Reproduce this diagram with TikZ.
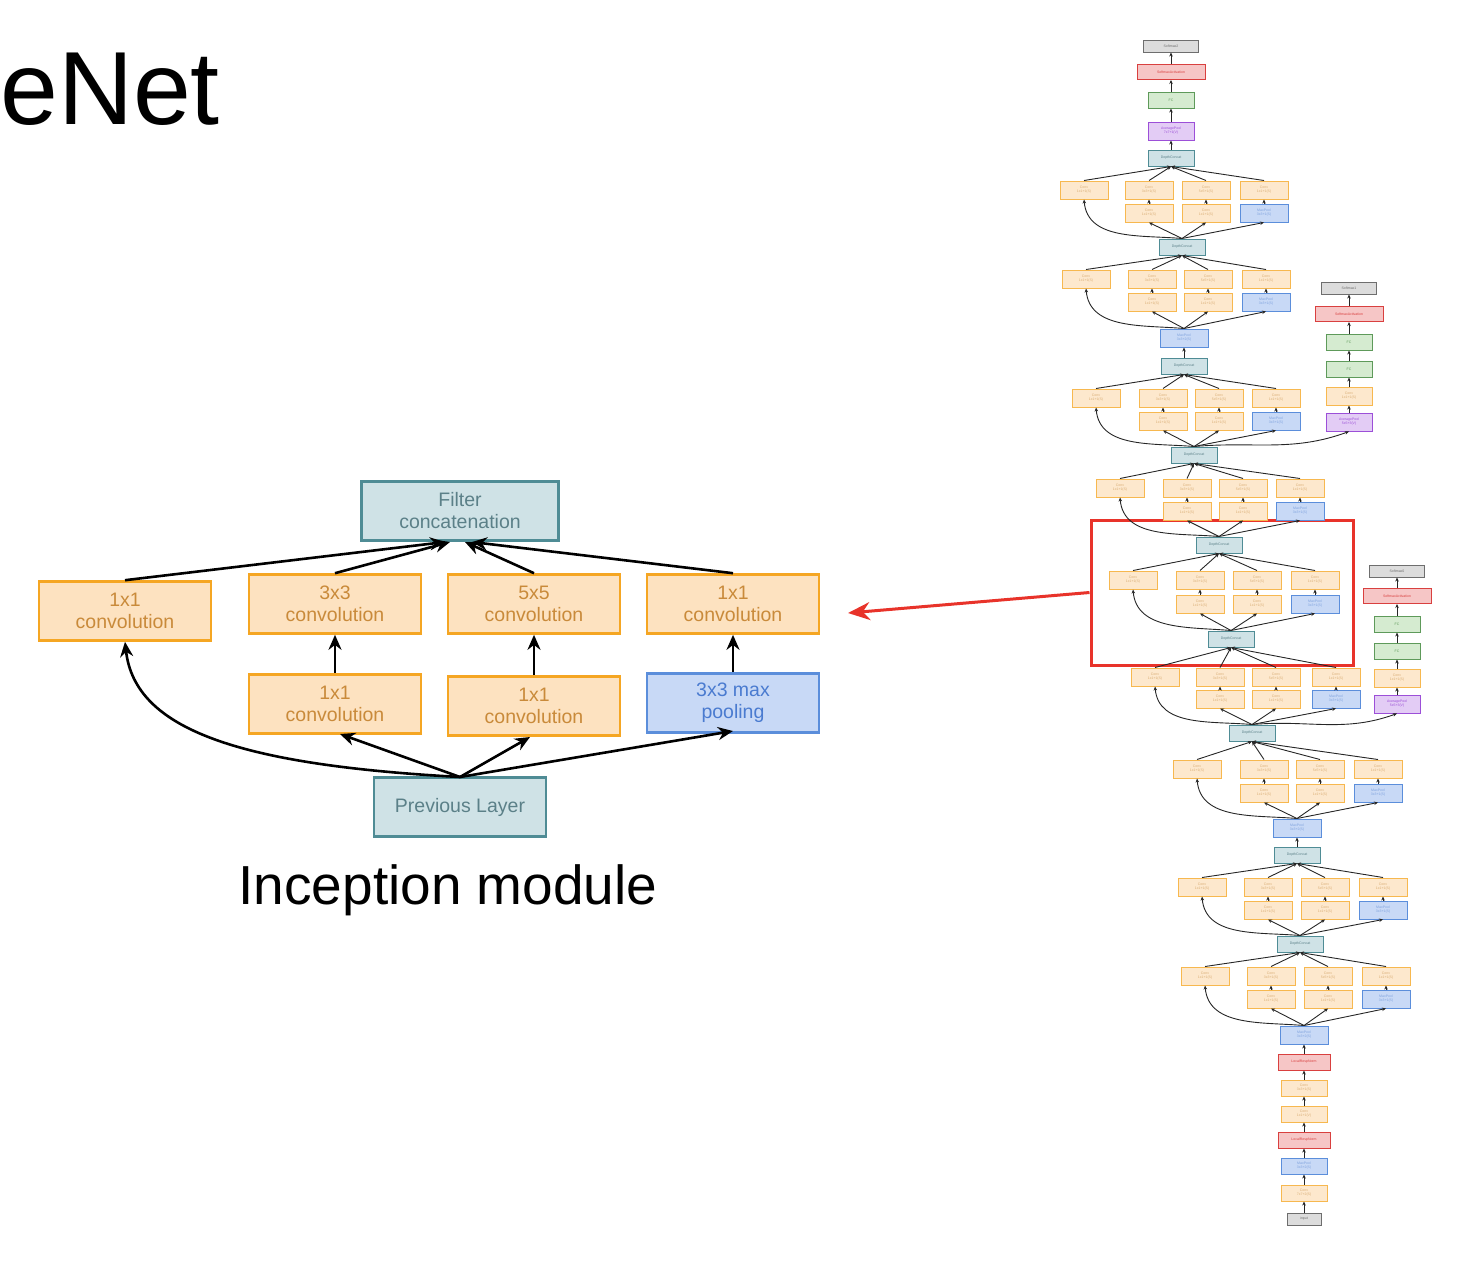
\documentclass[tikz,border=0pt]{standalone}
\usepackage{fontspec}
\setmainfont{Liberation Sans}
\usetikzlibrary{arrows.meta}
\definecolor{ofill}{HTML}{FDE2C0}\definecolor{oline}{HTML}{F5A623}\definecolor{otext}{HTML}{C98A3A}
\definecolor{tfill}{HTML}{CFE2E6}\definecolor{tline}{HTML}{4F8C95}\definecolor{ttext}{HTML}{5B8088}
\definecolor{bfill}{HTML}{C8D9F6}\definecolor{bline}{HTML}{5B8EDB}\definecolor{btext}{HTML}{4A7BD0}
\definecolor{rfill}{HTML}{F6C6C6}\definecolor{rline}{HTML}{D9403F}
\definecolor{gfill}{HTML}{D5EBD0}\definecolor{gline}{HTML}{5E9A5A}
\definecolor{pfill}{HTML}{E3CCF5}\definecolor{pline}{HTML}{9C4FD8}
\definecolor{kfill}{HTML}{DCDCDC}\definecolor{kline}{HTML}{6E6E6E}
\definecolor{redbox}{HTML}{E8332A}
\newcommand\incep[9]{%
\node[sconv] (#1a) at (#4,#2) {Conv\\1x1+1(S)};
\node[sconv] (#1b) at (#5,#2) {Conv\\3x3+1(S)};
\node[sconv] (#1c) at (#6,#2) {Conv\\5x5+1(S)};
\node[sconv] (#1d) at (#7,#2) {Conv\\1x1+1(S)};
\node[sconv] (#1e) at (#5,#3) {Conv\\1x1+1(S)};
\node[sconv] (#1f) at (#6,#3) {Conv\\1x1+1(S)};
\node[spool] (#1g) at (#7,#3) {MaxPool\\3x3+1(S)};
\foreach \n in {a,b,c,d}{\draw[sa] (#1\n.north) -- (#9.south);}
\draw[sa] (#1e) -- (#1b); \draw[sa] (#1f) -- (#1c); \draw[sa] (#1g) -- (#1d);
\draw[sa] (#8.north) to[out=175,in=-85] (#1a.south);
\draw[sa] (#8.north) -- (#1e.south);
\draw[sa] (#8.north) -- (#1f.south);
\draw[sa] (#8.north) -- (#1g.south);
}
\begin{document}
\begin{tikzpicture}[x=1pt,y=-1pt,
 big/.style={draw,line width=2.6pt,minimum width=172pt,minimum height=59pt,align=center,font=\fontsize{19.5}{22}\selectfont,inner sep=1pt},
 bo/.style={big,fill=ofill,draw=oline,text=otext},
 bt/.style={big,fill=tfill,draw=tline,text=ttext},
 bb/.style={big,fill=bfill,draw=bline,text=btext},
 ba/.style={-{Stealth[length=15pt,width=13pt]},line width=2.6pt,black},
 sm/.style={draw,line width=1pt,minimum width=48pt,minimum height=18pt,inner sep=0pt,align=center,font=\fontsize{3.5}{4}\selectfont},
 sconv/.style={sm,fill=ofill!80,draw=oline!80,text=otext!70},
 spool/.style={sm,fill=bfill,draw=bline,text=btext!70},
 scat/.style={sm,minimum width=46pt,minimum height=16pt,fill=tfill,draw=tline,text=ttext},
 sred/.style={sm,minimum width=68pt,minimum height=15pt,fill=rfill,draw=rline,text=rline},
 sgreen/.style={sm,minimum width=46pt,minimum height=16pt,fill=gfill,draw=gline,text=gline},
 spurp/.style={sm,minimum width=46pt,minimum height=18pt,fill=pfill,draw=pline,text=pline},
 sgray/.style={sm,minimum width=55pt,minimum height=12pt,fill=kfill,draw=kline,text=kline},
 sa/.style={-{Stealth[length=4pt,width=3.5pt]},line width=0.9pt,black!85}]
\useasboundingbox (0,0) rectangle (1482,1264);
% title
\node[anchor=base west,inner sep=0pt,font=\fontsize{104}{104}\selectfont] (title) at (0,124) {eNet};
% left inception module
\node[bt,minimum width=197pt] (fc) at (460,511) {Filter\\concatenation};
\node[bo] (t1) at (125,611) {1x1\\convolution};
\node[bo] (t2) at (335,604) {3x3\\convolution};
\node[bo] (t3) at (534,604) {5x5\\convolution};
\node[bo] (t4) at (733,604) {1x1\\convolution};
\node[bo] (s2) at (335,704) {1x1\\convolution};
\node[bo] (s3) at (534,706) {1x1\\convolution};
\node[bb] (s4) at (733,703) {3x3 max\\pooling};
\node[bt] (pl) at (460,807) {Previous Layer};
\node[font=\fontsize{55}{55}\selectfont] (cap) at (448,890) {Inception module};
\draw[ba] (t1.north) -- (445,542);
\draw[ba] (t2.north) -- (450,542);
\draw[ba] (t3.north) -- (465,542);
\draw[ba] (t4.north) -- (472,542);
\draw[ba] (s2.north) -- (t2.south);
\draw[ba] (s3.north) -- (t3.south);
\draw[ba] (s4.north) -- (t4.south);
\coordinate (plt) at (460,777);
\draw[ba] (plt) .. controls (240,765) and (135,730) .. (t1.south);
\draw[ba] (plt) -- (340,734);
\draw[ba] (plt) -- (530,737);
\draw[ba] (plt) -- (733,731);
% red highlight and arrow
\node[draw=redbox,line width=3pt,minimum width=262pt,minimum height=145pt,inner sep=0pt] (hl) at (1222,592.5) {};
\draw[-{Stealth[length=22pt,width=18pt]},draw=redbox,line width=3pt] (hl.west) -- (848,613);
% tower top
\node[sgray] (sm2) at (1171,46) {Softmax2};
\node[sred] (sa2) at (1171,72) {SoftmaxActivation};
\node[sgreen] (fc2) at (1171,100) {FC};
\node[spurp] (ap2) at (1171,131) {AveragePool\\7x7+1(V)};
\node[scat] (c158) at (1171,158) {DepthConcat};
\draw[sa] (c158) -- (ap2); \draw[sa] (ap2) -- (fc2); \draw[sa] (fc2) -- (sa2); \draw[sa] (sa2) -- (sm2);
\node[scat] (c247) at (1182,247) {DepthConcat};
\node[spool] (mp338) at (1184,338) {MaxPool\\3x3+2(S)};
\node[scat] (c366) at (1184,366) {DepthConcat};
\node[scat] (c455) at (1194,455) {DepthConcat};
\node[scat] (c545) at (1219,545) {DepthConcat};
\node[scat] (c639) at (1231,639) {DepthConcat};
\node[scat] (c733) at (1252,733) {DepthConcat};
\node[spool] (mp828) at (1297,828) {MaxPool\\3x3+2(S)};
\node[scat] (c855) at (1297,855) {DepthConcat};
\node[scat] (c944) at (1300,944) {DepthConcat};
\node[spool] (mp1035) at (1304,1035) {MaxPool\\3x3+2(S)};
\node[sred,minimum width=52pt,minimum height=16pt] (lrn2) at (1304,1062) {LocalRespNorm};
\node[sconv,minimum width=46pt,minimum height=16pt] (cv3) at (1304,1088) {Conv\\3x3+1(S)};
\node[sconv,minimum width=46pt,minimum height=16pt] (cv2) at (1304,1114) {Conv\\1x1+1(V)};
\node[sred,minimum width=52pt,minimum height=16pt] (lrn1) at (1304,1140) {LocalRespNorm};
\node[spool,minimum width=46pt,minimum height=16pt] (mp1) at (1304,1166) {MaxPool\\3x3+2(S)};
\node[sconv,minimum width=46pt,minimum height=16pt] (cv1) at (1304,1193) {Conv\\7x7+2(S)};
\node[sgray,minimum width=34pt] (inp) at (1304,1219) {input};
\draw[sa] (inp) -- (cv1); \draw[sa] (cv1) -- (mp1); \draw[sa] (mp1) -- (lrn1);
\draw[sa] (lrn1) -- (cv2); \draw[sa] (cv2) -- (cv3); \draw[sa] (cv3) -- (lrn2);
\draw[sa] (lrn2) -- (mp1035);
\draw[sa] (c855) -- (mp828);
\draw[sa] (c366) -- (mp338);
\incep{ma}{976}{999}{1205}{1271}{1328}{1386}{mp1035}{c944}
\incep{mb}{887}{910}{1202}{1268}{1325}{1383}{c944}{c855}
\incep{mc}{769}{793}{1197}{1264}{1320}{1378}{mp828}{c733}
\incep{md}{677}{699}{1155}{1220}{1276}{1336}{c733}{c639}
\incep{me}{580}{604}{1133}{1200}{1257}{1315}{c639}{c545}
\incep{mf}{488}{511}{1120}{1187}{1243}{1300}{c545}{c455}
\incep{mg}{398}{421}{1096}{1163}{1219}{1276}{c455}{c366}
\incep{mh}{279}{302}{1086}{1152}{1208}{1266}{mp338}{c247}
\incep{mi}{190}{213}{1084}{1149}{1206}{1264}{c247}{c158}
% aux classifier 1
\node[sgray] (sm1) at (1349,288) {Softmax1};
\node[sred] (sa1) at (1349,314) {SoftmaxActivation};
\node[sgreen] (fa1) at (1349,342) {FC};
\node[sgreen] (fb1) at (1349,369) {FC};
\node[sconv,minimum width=46pt] (cx1) at (1349,396) {Conv\\1x1+1(S)};
\node[spurp] (ax1) at (1349,422) {AveragePool\\5x5+3(V)};
\draw[sa] (ax1) -- (cx1); \draw[sa] (cx1) -- (fb1); \draw[sa] (fb1) -- (fa1); \draw[sa] (fa1) -- (sa1); \draw[sa] (sa1) -- (sm1);
\draw[sa] (c455.north) to[out=5,in=-160] (ax1.south);
% aux classifier 2
\node[sgray] (sm0) at (1397,571) {Softmax0};
\node[sred] (sa0) at (1397,596) {SoftmaxActivation};
\node[sgreen] (fa0) at (1397,624) {FC};
\node[sgreen] (fb0) at (1397,651) {FC};
\node[sconv,minimum width=46pt] (cx0) at (1397,678) {Conv\\1x1+1(S)};
\node[spurp] (ax0) at (1397,704) {AveragePool\\5x5+3(V)};
\draw[sa] (ax0) -- (cx0); \draw[sa] (cx0) -- (fb0); \draw[sa] (fb0) -- (fa0); \draw[sa] (fa0) -- (sa0); \draw[sa] (sa0) -- (sm0);
\draw[sa] (c733.north) to[out=5,in=-160] (ax0.south);
\end{tikzpicture}
\end{document}
